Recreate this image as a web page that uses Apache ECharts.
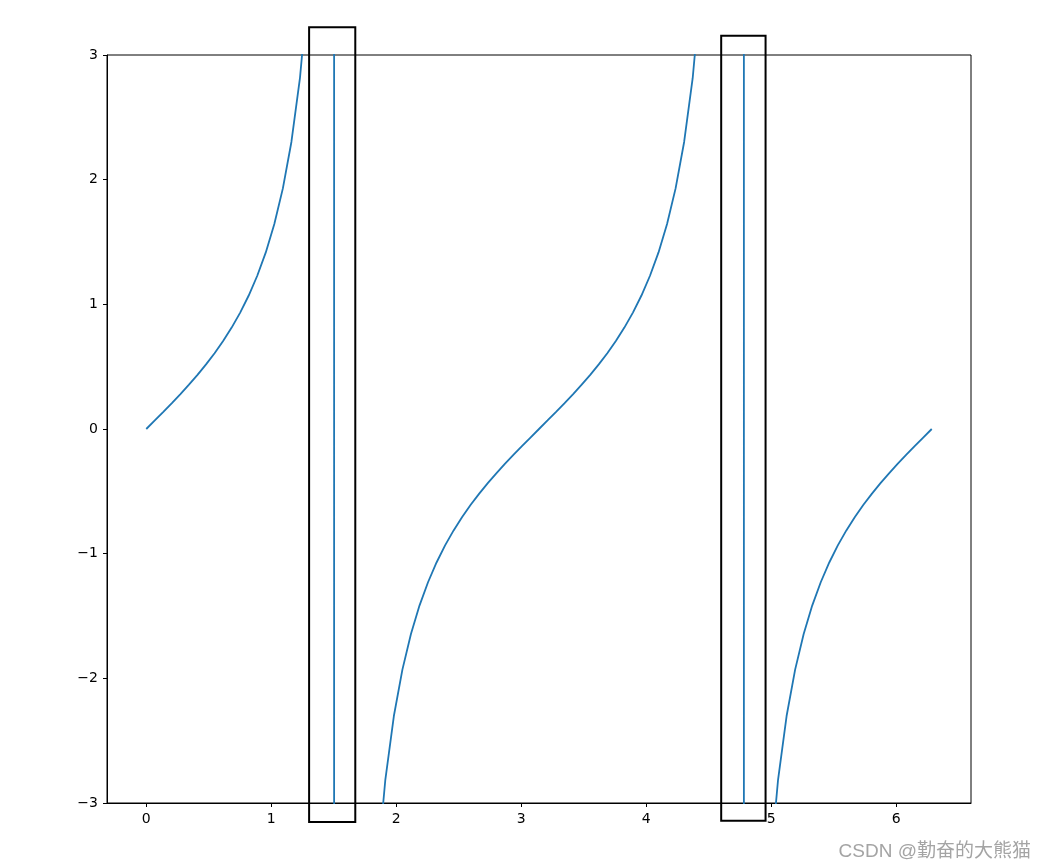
<!DOCTYPE html>
<html>
<head>
<meta charset="utf-8">
<script src="https://cdn.jsdelivr.net/npm/echarts@6/dist/echarts.min.js"></script>
<style>
html,body{margin:0;padding:0;background:#fff;}
#c{width:1047px;height:867px;}
</style>
</head>
<body>
<div id="c"></div>
<script>
// x samples (0 .. 2π, 93 points)
const xValues = [0, 0.0683, 0.1366, 0.2049, 0.2732, 0.3415, 0.4098, 0.4781, 0.5464, 0.6147,
  0.6830, 0.7513, 0.8195, 0.8878, 0.9561, 1.0244, 1.0927, 1.1610, 1.2293, 1.2976,
  1.3659, 1.4342, 1.5025, 1.5708, 1.6391, 1.7074, 1.7757, 1.8440, 1.9123, 1.9806,
  2.0489, 2.1172, 2.1855, 2.2538, 2.3220, 2.3903, 2.4586, 2.5269, 2.5952, 2.6635,
  2.7318, 2.8001, 2.8684, 2.9367, 3.0050, 3.0733, 3.1416, 3.2099, 3.2782, 3.3465,
  3.4148, 3.4831, 3.5514, 3.6197, 3.6880, 3.7563, 3.8245, 3.8928, 3.9611, 4.0294,
  4.0977, 4.1660, 4.2343, 4.3026, 4.3709, 4.4392, 4.5075, 4.5758, 4.6441, 4.7124,
  4.7807, 4.8490, 4.9173, 4.9856, 5.0539, 5.1222, 5.1905, 5.2588, 5.3270, 5.3953,
  5.4636, 5.5319, 5.6002, 5.6685, 5.7368, 5.8051, 5.8734, 5.9417, 6.0100, 6.0783,
  6.1466, 6.2149, 6.2832];
// y values (tan), including the huge values at the asymptotes
const yValues = [0, 0.0684, 0.1374, 0.2078, 0.2802, 0.3554, 0.4344, 0.5182, 0.6081, 0.7059,
  0.8136, 0.9339, 1.0707, 1.2292, 1.4167, 1.6444, 1.9299, 2.3022, 2.8137, 3.5690,
  4.8123, 7.2755, 14.6195, -10000,
  -14.6195, -7.2755, -4.8123, -3.5690, -2.8137, -2.3022, -1.9299, -1.6444, -1.4167, -1.2292,
  -1.0707, -0.9339, -0.8136, -0.7059, -0.6081, -0.5182, -0.4344, -0.3554, -0.2802, -0.2078,
  -0.1374, -0.0684,
  0,
  0.0684, 0.1374, 0.2078, 0.2802, 0.3554, 0.4344, 0.5182, 0.6081, 0.7059, 0.8136,
  0.9339, 1.0707, 1.2292, 1.4167, 1.6444, 1.9299, 2.3022, 2.8137, 3.5690, 4.8123,
  7.2755, 14.6195,
  10000,
  -14.6195, -7.2755, -4.8123, -3.5690, -2.8137, -2.3022, -1.9299, -1.6444, -1.4167, -1.2292,
  -1.0707, -0.9339, -0.8136, -0.7059, -0.6081, -0.5182, -0.4344, -0.3554, -0.2802, -0.2078,
  -0.1374, -0.0684,
  0];
const xTicks = [0, 1, 2, 3, 4, 5, 6];
const xRange = [-0.31416, 6.59734];
const yRange = [-3, 3];
// highlight boxes (data coords: x0, x1, yTop, yBottom)
const boxA = [1.3026, 1.672, 3.222, -3.152];
const boxB = [4.599, 4.954, 3.155, -3.142];
const watermark = 'CSDN @勤奋的大熊猫';

const chart = echarts.init(document.getElementById('c'), null, {renderer: 'canvas'});
const fontFamily = 'DejaVu Sans';
const option = {
  animation: false,
  backgroundColor: '#fff',
  grid: {left: 107, right: 76, top: 55, bottom: 64, show: true, borderColor: '#000', borderWidth: 1, containLabel: false},
  xAxis: {
    type: 'value', min: xRange[0], max: xRange[1],
    axisLine: {show: true, onZero: false, lineStyle: {color: '#000', width: 1}},
    axisTick: {show: true, length: 4, customValues: xTicks, lineStyle: {color: '#000'}},
    axisLabel: {customValues: xTicks, color: '#000', fontSize: 14, fontFamily: fontFamily, margin: 9},
    splitLine: {show: false}
  },
  yAxis: {
    type: 'value', min: yRange[0], max: yRange[1], interval: 1,
    axisLine: {show: true, onZero: false, lineStyle: {color: '#000', width: 1}},
    axisTick: {show: true, length: 4, lineStyle: {color: '#000'}},
    axisLabel: {color: '#000', fontSize: 14, fontFamily: fontFamily, margin: 9,
      formatter: v => String(v).replace('-', '\u2212')},
    splitLine: {show: false}
  },
  series: [{
    type: 'line',
    data: xValues.map((x, i) => [x, yValues[i]]),
    showSymbol: false,
    clip: true,
    lineStyle: {color: '#1f77b4', width: 1.8},
    itemStyle: {color: '#1f77b4'}
  }]
};
chart.setOption(option);

function boxGraphic(b) {
  const p0 = chart.convertToPixel({gridIndex: 0}, [b[0], b[2]]);
  const p1 = chart.convertToPixel({gridIndex: 0}, [b[1], b[3]]);
  return {type: 'rect', shape: {x: p0[0], y: p0[1], width: p1[0] - p0[0], height: p1[1] - p0[1]},
    style: {fill: null, stroke: '#000', lineWidth: 2}, z: 100};
}
chart.setOption({
  graphic: [
    boxGraphic(boxA),
    boxGraphic(boxB),
    {type: 'text', right: 16, bottom: 6, z: 100,
      style: {text: watermark, fill: '#a4a4a4', font: '19px "Liberation Sans", "Noto Sans CJK SC", sans-serif'}}
  ]
});
</script>
</body>
</html>
